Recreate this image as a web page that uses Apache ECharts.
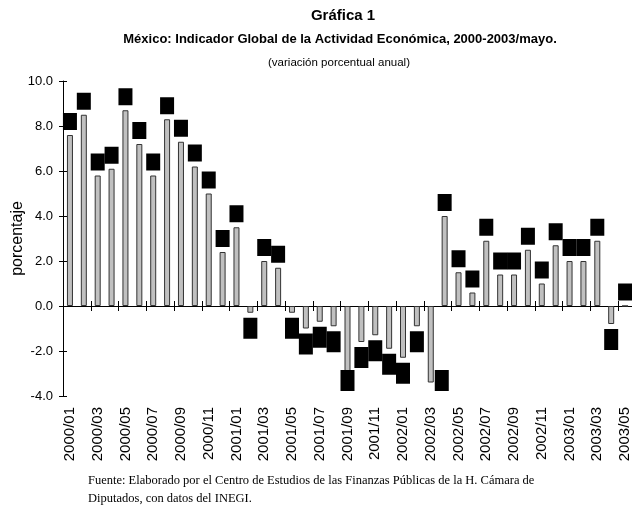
<!DOCTYPE html>
<html>
<head>
<meta charset="utf-8">
<script src="https://cdn.jsdelivr.net/npm/echarts@6/dist/echarts.min.js"></script>
<style>
  html, body { margin: 0; padding: 0; background: #fff; }
  #chart { width: 632px; height: 506px; }
</style>
</head>
<body>
<div id="chart"></div>
<script>
// meses 2000/01 - 2003/05
const meses = [
  "2000/01","2000/02","2000/03","2000/04","2000/05","2000/06","2000/07","2000/08","2000/09","2000/10","2000/11","2000/12",
  "2001/01","2001/02","2001/03","2001/04","2001/05","2001/06","2001/07","2001/08","2001/09","2001/10","2001/11","2001/12",
  "2002/01","2002/02","2002/03","2002/04","2002/05","2002/06","2002/07","2002/08","2002/09","2002/10","2002/11","2002/12",
  "2003/01","2003/02","2003/03","2003/04","2003/05"
];
// variación porcentual anual del IGAE
const igae = [
  7.6, 8.5, 5.8, 6.1, 8.7, 7.2, 5.8, 8.3, 7.3, 6.2, 5.0, 2.4,
  3.5, -0.3, 2.0, 1.7, -0.3, -1.0, -0.7, -0.9, -2.9, -1.6, -1.3, -1.9,
  -2.3, -0.9, -3.4, 4.0, 1.5, 0.6, 2.9, 1.4, 1.4, 2.5, 1.0, 2.7,
  2.0, 2.0, 2.9, -0.8, 0.0
];
const yMin = -4, yMax = 10, yStep = 2;

const font = "Liberation Sans";
const gridTop = 81, gridH = 315;
const chart = echarts.init(document.getElementById("chart"));

const barData = igae.map(v => ({
  value: v,
  label: { position: v < 0 ? "bottom" : "top", height: v < 0 ? 21 : 17, lineHeight: v < 0 ? 21 : 17 }
}));

const zeroAxis = (inside) => ({
  type: "category",
  data: meses,
  position: "bottom",
  axisLine: { show: !inside, onZero: true, lineStyle: { color: "#000", width: 1 } },
  axisTick: { show: true, inside: inside, length: 5, interval: 1, lineStyle: { color: "#000" } },
  axisLabel: { show: false },
  splitLine: { show: false }
});

chart.setOption({
  animation: false,
  title: [
    { text: "Gráfica 1", left: 338, top: 3, textAlign: "center",
      textStyle: { fontFamily: font, fontSize: 15, fontWeight: "bold", color: "#000" } },
    { text: "México: Indicador Global de la Actividad Económica, 2000-2003/mayo.", left: 335, top: 28, textAlign: "center",
      textStyle: { fontFamily: font, fontSize: 13, fontWeight: "bold", color: "#000" } },
    { text: "(variación porcentual anual)", left: 334, top: 52, textAlign: "center",
      textStyle: { fontFamily: font, fontSize: 11.5, fontWeight: "normal", color: "#000" } }
  ],
  grid: { left: 63, top: gridTop, width: 569, height: gridH, containLabel: false, outerBoundsMode: "none" },
  xAxis: [
    {
      type: "category",
      data: meses,
      position: "bottom",
      axisLine: { show: false, onZero: false },
      axisTick: { show: false },
      axisLabel: { interval: 1, rotate: 90, margin: 11, fontFamily: font, fontSize: 15, color: "#000" }
    },
    zeroAxis(false),
    zeroAxis(true)
  ],
  yAxis: [
    {
      type: "value",
      min: yMin, max: yMax, interval: yStep,
      name: "porcentaje",
      nameLocation: "middle",
      nameGap: 37,
      nameMoveOverlap: false,
      nameTextStyle: { fontFamily: font, fontSize: 16, color: "#000" },
      axisLine: { show: true, lineStyle: { color: "#000", width: 1 } },
      axisTick: { show: true, length: 4, lineStyle: { color: "#000" } },
      axisLabel: { fontFamily: font, fontSize: 13, color: "#000", margin: 10, formatter: v => v.toFixed(1) },
      splitLine: { show: false }
    },
    {
      type: "value",
      position: "left",
      min: yMin, max: yMax, interval: yStep,
      axisLine: { show: false },
      axisTick: { show: true, inside: true, length: 4, lineStyle: { color: "#000" } },
      axisLabel: { show: false },
      splitLine: { show: false }
    }
  ],
  series: [
    {
      type: "bar",
      xAxisIndex: 0,
      yAxisIndex: 0,
      data: barData,
      barWidth: 6,
      itemStyle: { color: "#c0c0c0", borderColor: "#333", borderWidth: 1 },
      label: {
        show: true,
        distance: 5,
        formatter: p => p.value.toFixed(1),
        fontFamily: font,
        fontSize: 10,
        color: "#000",
        backgroundColor: "#000",
        width: 14,
        overflow: "truncate",
        ellipsis: "",
        align: "center",
        padding: 0
      },
      // keep labels inside the plot area, like the original
      labelLayout: function (p) {
        const limit = gridTop + gridH - 5;
        const r = p.labelRect;
        const over = r.y + r.height - limit;
        if (over > 0) {
          return { dy: -over, dx: over > 10 ? 11 : 0 };
        }
        return {};
      }
    }
  ],
  graphic: [
    { type: "text", left: 88, top: 474,
      style: { text: "Fuente: Elaborado por el Centro de Estudios de las Finanzas Públicas de la H. Cámara de",
               font: "12.5px 'Liberation Serif'", fill: "#000" } },
    { type: "text", left: 88, top: 492,
      style: { text: "Diputados, con datos del INEGI.", font: "12.5px 'Liberation Serif'", fill: "#000" } }
  ]
});
</script>
</body>
</html>
